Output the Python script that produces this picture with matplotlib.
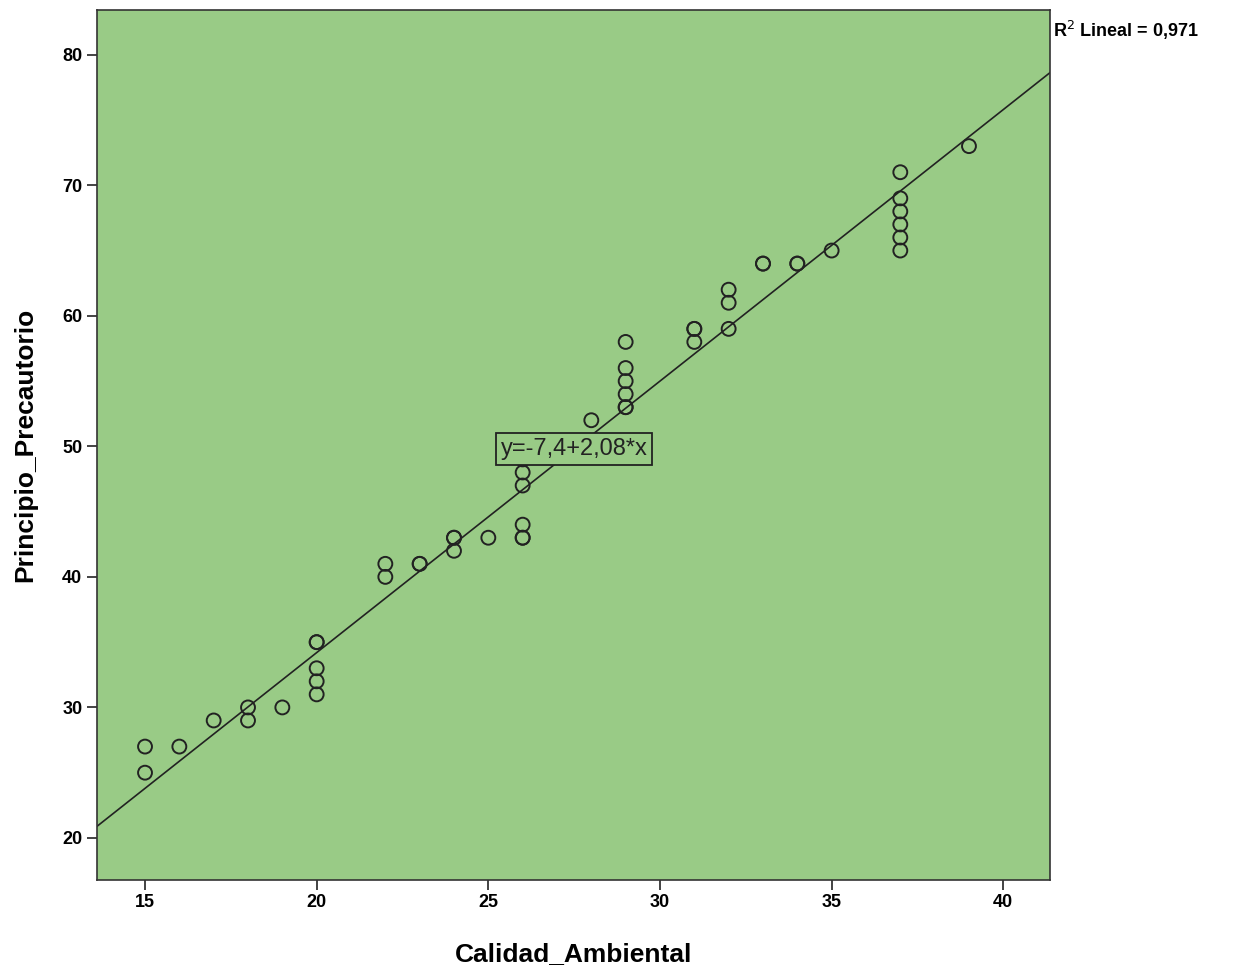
import matplotlib
matplotlib.use("Agg")
import matplotlib.pyplot as plt
import numpy as np

plt.rcParams["font.family"] = ["Liberation Sans Narrow", "Liberation Sans", "DejaVu Sans"]

calidad = [15, 15, 16, 17, 18, 18, 19,
           20, 20, 20, 20, 20,
           22, 22, 23, 23, 24, 24, 24, 25,
           26, 26, 26, 26, 26, 26,
           28, 29, 29, 29, 29, 29, 29,
           31, 31, 31, 32, 32, 32, 33, 33, 34, 34, 35,
           37, 37, 37, 37, 37, 37, 39]
principio = [27, 25, 27, 29, 30, 29, 30,
             35, 35, 33, 32, 31,
             41, 40, 41, 41, 43, 43, 42, 43,
             48, 47, 44, 43, 43, 49,
             52, 58, 56, 55, 54, 53, 53,
             59, 59, 58, 62, 61, 59, 64, 64, 64, 64, 65,
             71, 69, 68, 67, 66, 65, 73]

intercept = -7.4
slope = 2.08
r2_text = "R$^2$ Lineal = 0,971"
eq_text = "y=-7,4+2,08*x"
x_ticks = [15, 20, 25, 30, 35, 40]
y_ticks = [20, 30, 40, 50, 60, 70, 80]

fig = plt.figure(figsize=(12.43, 9.71), dpi=100)
ax = fig.add_axes([0.078, 0.094, 0.767, 0.896])
ax.set_facecolor("#99cb86")

ax.scatter(calidad, principio, s=100, facecolors="none", edgecolors="#222222",
           linewidths=1.4, zorder=3)

xlim = (13.6, 41.37)
xs = np.array(xlim)
ax.plot(xs, intercept + slope * xs, color="#222222", lw=1.2, zorder=2)

ax.text(27.5, 49.8, eq_text, ha="center", va="center", fontsize=17,
        color="#222222", zorder=5,
        bbox=dict(boxstyle="square,pad=0.2", facecolor="#99cb86",
                  edgecolor="#222222", linewidth=1.3))

ax.set_xlim(*xlim)
ax.set_ylim(16.8, 83.45)
ax.set_xticks(x_ticks)
ax.set_yticks(y_ticks)
ax.tick_params(direction="out", length=7, width=1.2, labelsize=13,
               color="#222222")
for lab in ax.get_xticklabels() + ax.get_yticklabels():
    lab.set_fontweight("bold")
for sp in ax.spines.values():
    sp.set_color("#333333")
    sp.set_linewidth(1.2)

ax.set_xlabel("Calidad_Ambiental", fontsize=19, fontweight="bold", labelpad=22,
              family=["Liberation Sans", "DejaVu Sans"])
ax.set_ylabel("Principio_Precautorio", fontsize=19, fontweight="bold", labelpad=18,
              family=["Liberation Sans", "DejaVu Sans"])

fig.text(0.847, 0.969, r2_text, fontsize=13, fontweight="bold", ha="left",
         va="center", family=["Liberation Sans", "DejaVu Sans"])

fig.savefig("out.png", dpi=100)
